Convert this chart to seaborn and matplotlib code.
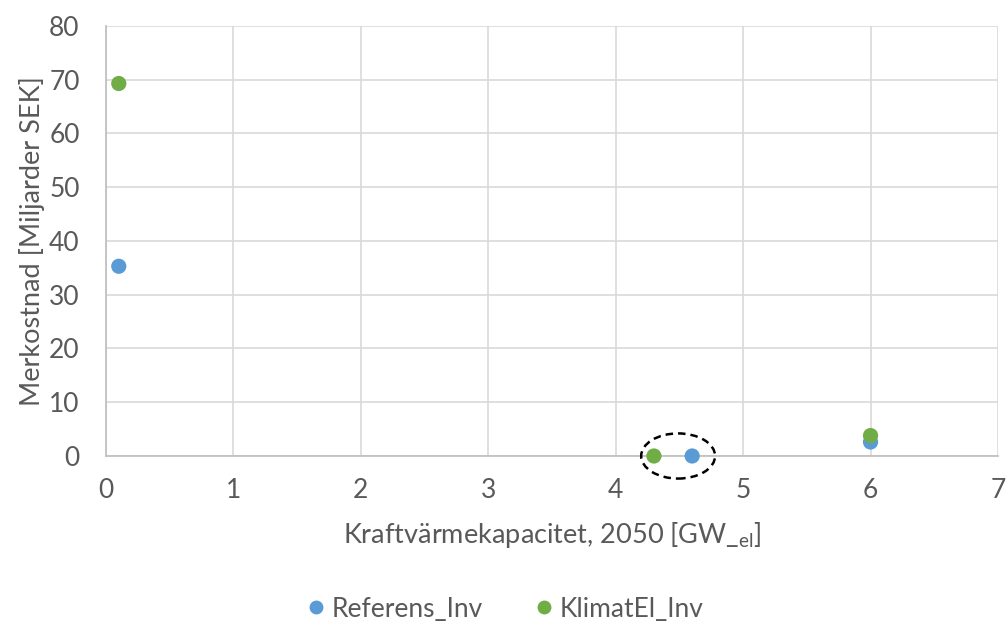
import pandas as pd
import seaborn as sns
import matplotlib.pyplot as plt
from matplotlib.patches import Ellipse

sns.set_theme(style="whitegrid")
plt.rcParams['font.family'] = ['Lato', 'DejaVu Sans']

# data
series = ["Referens_Inv", "KlimatEl_Inv"]
referens_x = [0.1, 4.6, 6.0]
referens_y = [35.3, 0.0, 2.6]
klimat_x = [0.1, 4.3, 6.0]
klimat_y = [69.3, 0.0, 3.8]
colors = ["#5B9BD5", "#70AD47"]

df = pd.concat([
    pd.DataFrame({"x": referens_x, "y": referens_y, "serie": series[0]}),
    pd.DataFrame({"x": klimat_x, "y": klimat_y, "serie": series[1]}),
], ignore_index=True)

fig = plt.figure(figsize=(10.06, 6.28), dpi=100)
ax = fig.add_axes([0.1054, 0.2739, 0.8866, 0.6847])

sns.scatterplot(data=df, x="x", y="y", hue="serie", palette=colors,
                s=120, edgecolor="none", ax=ax, zorder=3, clip_on=False,
                legend=False)

ax.set_xlim(0, 7)
ax.set_ylim(0, 80)
ax.set_xticks(range(0, 8))
ax.set_yticks(range(0, 81, 10))

grey = "#595959"
for sp in ax.spines.values():
    sp.set_visible(False)
ax.spines["left"].set_visible(True)
ax.spines["bottom"].set_visible(True)
ax.spines["left"].set_color("#BFBFBF")
ax.spines["bottom"].set_color("#BFBFBF")
ax.grid(True, color="#D9D9D9", linewidth=1.2)
ax.tick_params(axis="both", labelsize=19, colors=grey, length=0)
ax.tick_params(axis="y", pad=19)
ax.tick_params(axis="x", pad=16)

ax.set_xlabel("Kraftvärmekapacitet, 2050 [GW_$_{\\mathregular{el}}$]",
              fontsize=19.5, color=grey, labelpad=12)
ax.set_ylabel("Merkostnad [Miljarder SEK]", fontsize=19.5, color=grey, labelpad=3)

# dashed ring around the two zero points
ring = Ellipse((4.49, 0), width=0.58, height=8.4, fill=False,
               linestyle=(0, (3, 2)), linewidth=1.8, edgecolor="black",
               clip_on=False, zorder=4)
ax.add_patch(ring)

handles = [plt.Line2D([], [], marker="o", linestyle="none", markersize=10,
                      markerfacecolor=c, markeredgecolor="none") for c in colors]
leg = fig.legend(handles, series, loc="center", bbox_to_anchor=(0.5, 0.03),
                 ncol=2, frameon=False, fontsize=19, handletextpad=0.1,
                 columnspacing=1.8, handlelength=1.0)
for t in leg.get_texts():
    t.set_color(grey)

fig.savefig("out.png", dpi=100)
